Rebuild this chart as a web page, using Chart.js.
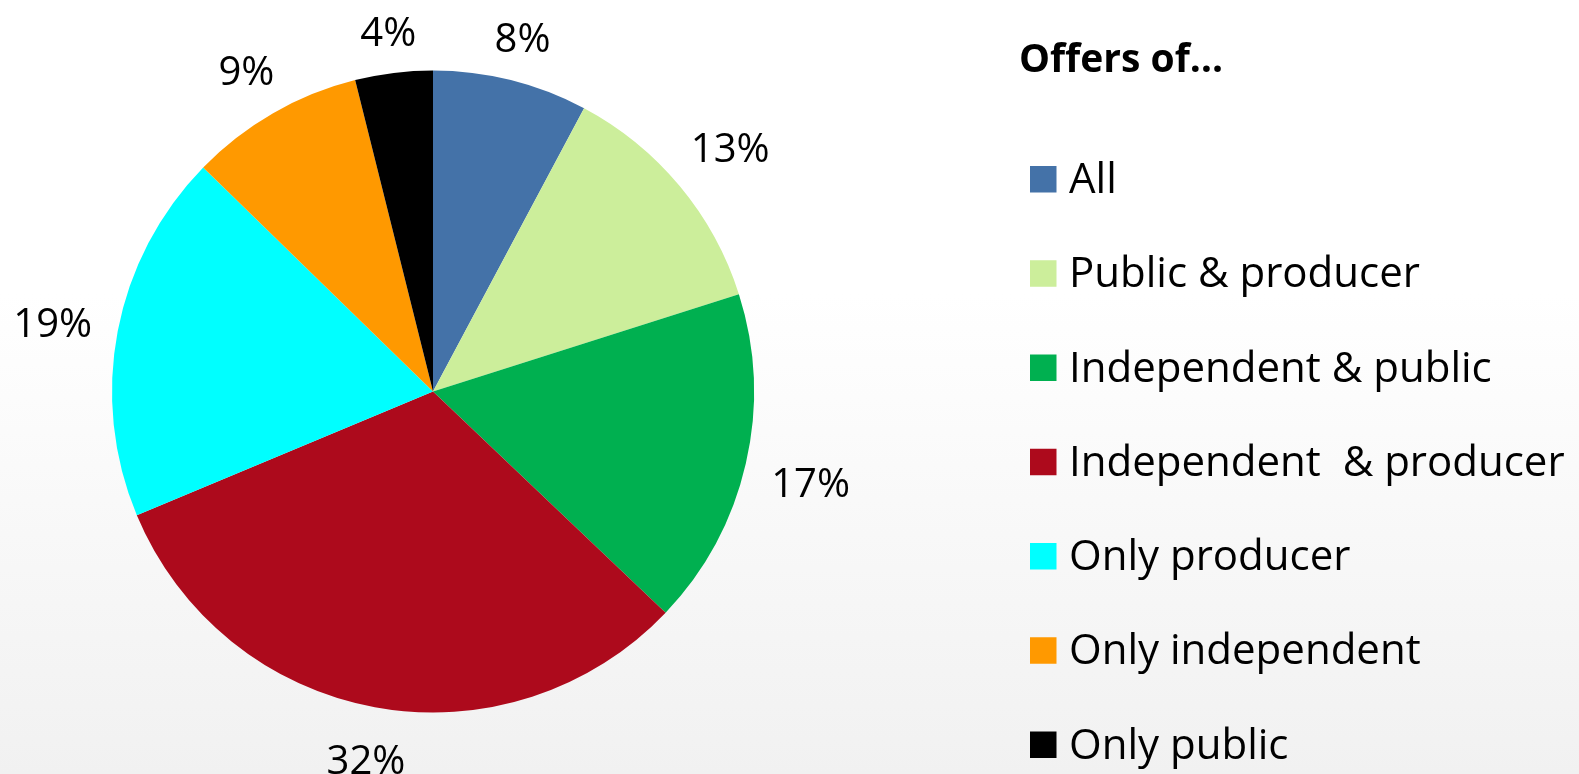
<!DOCTYPE html>
<html>
<head>
<meta charset="utf-8">
<script src="https://cdn.jsdelivr.net/npm/chart.js@4/dist/chart.umd.min.js"></script>
<style>
  html, body { margin: 0; padding: 0; }
  body {
    width: 1579px; height: 774px; overflow: hidden;
    background: linear-gradient(to bottom, #ffffff 0%, #ffffff 38%, #f1f1f1 100%);
  }
  canvas { display: block; }
</style>
</head>
<body>
<canvas id="c" width="1579" height="774"></canvas>
<script>
// ---- data ----
const categories = ['All', 'Public & producer', 'Independent & public', 'Independent  & producer', 'Only producer', 'Only independent', 'Only public'];
const shares = [7.8, 12.3, 17.0, 31.6, 18.6, 8.8, 3.9];
const shareLabels = ['8%', '13%', '17%', '32%', '19%', '9%', '4%'];
const sliceColors = ['#4472A8', '#CCEE9B', '#00B050', '#AD0A1C', '#00FFFF', '#FF9900', '#000000'];
const legendTitle = 'Offers of\u2026';

const FONT = '"Open Sans", "Liberation Sans", sans-serif';

const outsideLabels = {
  id: 'outsideLabels',
  afterDatasetsDraw(chart) {
    const ctx = chart.ctx;
    const meta = chart.getDatasetMeta(0);
    ctx.save();
    ctx.font = '40px ' + FONT;
    ctx.fillStyle = '#000';
    ctx.textAlign = 'center';
    ctx.textBaseline = 'alphabetic';
    const gap = 24, hh = 18, capHalf = 14.3, yShift = 4;
    meta.data.forEach((arc, i) => {
      const p = arc.getProps(['x', 'y', 'startAngle', 'endAngle', 'outerRadius'], true);
      const mid = (p.startAngle + p.endAngle) / 2;
      const cx = Math.cos(mid), sy = Math.sin(mid);
      const txt = shareLabels[i];
      const hw = ctx.measureText(txt).width / 2;
      const d = p.outerRadius + gap + Math.abs(cx) * hw + Math.abs(sy) * hh;
      ctx.fillText(txt, p.x + cx * d, p.y + sy * d + capHalf + yShift);
    });
    ctx.restore();
  }
};

const sideLegend = {
  id: 'sideLegend',
  afterDraw(chart) {
    const ctx = chart.ctx;
    const labels = chart.data.labels;
    const colors = chart.data.datasets[0].backgroundColor;
    ctx.save();
    ctx.fillStyle = '#000';
    ctx.textAlign = 'left';
    ctx.textBaseline = 'alphabetic';
    ctx.font = 'bold 39px ' + FONT;
    ctx.fillText(legendTitle, 1019, 72);
    ctx.font = '42px ' + FONT;
    const x0 = 1030, y0 = 166, step = 94.25, box = 26.5;
    labels.forEach((lab, i) => {
      const y = y0 + i * step;
      ctx.fillStyle = colors[i];
      ctx.fillRect(x0, y, box, box);
      ctx.fillStyle = '#000';
      ctx.fillText(lab, 1069, y + box + 0.5);
    });
    ctx.restore();
  }
};

new Chart(document.getElementById('c'), {
  type: 'pie',
  data: {
    labels: categories,
    datasets: [{
      data: shares,
      backgroundColor: sliceColors,
      borderWidth: 0,
      hoverBorderWidth: 0,
      hoverOffset: 0
    }]
  },
  options: {
    responsive: false,
    animation: false,
    events: [],
    layout: { padding: { left: 112, top: 70.5, right: 825, bottom: 61.5 } },
    plugins: {
      legend: { display: false },
      tooltip: { enabled: false }
    }
  },
  plugins: [outsideLabels, sideLegend]
});
</script>
</body>
</html>
